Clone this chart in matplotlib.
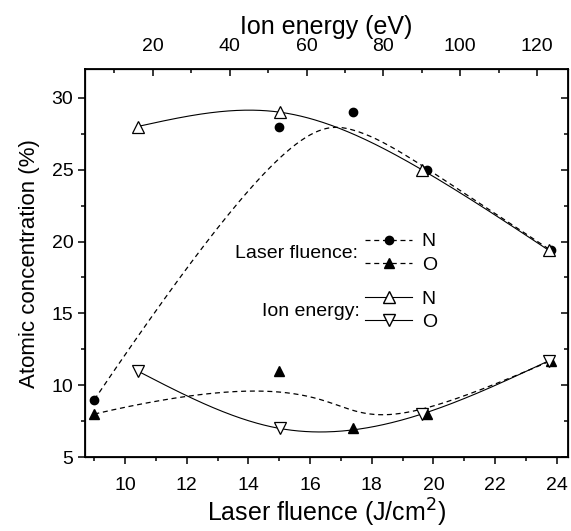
import numpy as np
import matplotlib
matplotlib.use("Agg")
import matplotlib.pyplot as plt
from matplotlib.lines import Line2D
from matplotlib.ticker import MultipleLocator

plt.rcParams['font.family'] = ['Liberation Sans', 'DejaVu Sans']

# laser fluence series (J/cm2)
fluence = [9.0, 15.0, 17.4, 19.8, 23.8]
fluence_N = [9.0, 28.0, 29.0, 25.0, 19.4]
fluence_O = [8.0, 11.0, 7.0, 8.0, 11.7]

# ion energy series (eV)
energy = [16.0, 53.0, 90.0, 123.0]
energy_N = [28.0, 29.0, 25.0, 19.4]
energy_O = [11.0, 7.0, 8.0, 11.7]


def bspline(px, py, n=300):
    # clamped cubic B-spline, points used as control points
    px = np.asarray(px, float)
    py = np.asarray(py, float)
    k = 3
    m = len(px)
    knots = np.concatenate([np.zeros(k), np.linspace(0, 1, m - k + 1), np.ones(k)])
    t = np.linspace(0, 1 - 1e-9, n)
    B = np.zeros((n, len(knots) - 1))
    for i in range(len(knots) - 1):
        B[:, i] = (t >= knots[i]) & (t < knots[i + 1])
    for d in range(1, k + 1):
        Bn = np.zeros((n, len(knots) - 1 - d))
        for i in range(len(knots) - 1 - d):
            a = knots[i + d] - knots[i]
            b = knots[i + d + 1] - knots[i + 1]
            left = (t - knots[i]) / a * B[:, i] if a > 0 else 0
            right = (knots[i + d + 1] - t) / b * B[:, i + 1] if b > 0 else 0
            Bn[:, i] = left + right
        B = Bn
    return B @ px, B @ py


def natural_spline(x, y, n=300):
    x = np.asarray(x, float)
    y = np.asarray(y, float)
    N = len(x)
    h = np.diff(x)
    A = np.zeros((N, N))
    r = np.zeros(N)
    A[0, 0] = A[-1, -1] = 1
    for i in range(1, N - 1):
        A[i, i - 1] = h[i - 1]
        A[i, i] = 2 * (h[i - 1] + h[i])
        A[i, i + 1] = h[i]
        r[i] = 6 * ((y[i + 1] - y[i]) / h[i] - (y[i] - y[i - 1]) / h[i - 1])
    M = np.linalg.solve(A, r)
    xs = np.linspace(x[0], x[-1], n)
    idx = np.clip(np.searchsorted(x, xs) - 1, 0, N - 2)
    x0, x1 = x[idx], x[idx + 1]
    hh = x1 - x0
    ys = (M[idx] * (x1 - xs) ** 3 / (6 * hh) + M[idx + 1] * (xs - x0) ** 3 / (6 * hh)
          + (y[idx] / hh - M[idx] * hh / 6) * (x1 - xs)
          + (y[idx + 1] / hh - M[idx + 1] * hh / 6) * (xs - x0))
    return xs, ys


fig = plt.figure(figsize=(5.71, 5.31), dpi=100)
ax = fig.add_axes([0.149, 0.139, 0.846, 0.731])

ax.set_xlim(8.7, 24.37)
ax.set_ylim(5, 32)

dash = (0, (4, 3))
bx, by = bspline(fluence, fluence_N)
ax.plot(bx, by, color='k', lw=0.9, ls=dash)
bx, by = bspline(fluence, fluence_O)
ax.plot(bx, by, color='k', lw=0.9, ls=dash)
ax.plot(fluence, fluence_N, 'o', color='k', ms=6, ls='none')
ax.plot(fluence, fluence_O, '^', color='k', ms=7, ls='none')

ax.set_xlabel('Laser fluence (J/cm$^2$)', fontsize=18, labelpad=2)
ax.set_ylabel('Atomic concentration (%)', fontsize=16, labelpad=8)
ax.xaxis.set_major_locator(MultipleLocator(2))
ax.xaxis.set_minor_locator(MultipleLocator(1))
ax.yaxis.set_major_locator(MultipleLocator(5))
ax.yaxis.set_minor_locator(MultipleLocator(2.5))
ax.tick_params(which='both', direction='out', labelsize=14, width=1.1)
ax.tick_params(which='major', length=5)
ax.tick_params(which='minor', length=3)
ax.tick_params(axis='x', pad=9)
for s in ax.spines.values():
    s.set_linewidth(1.3)

# top axis: ion energy
axt = ax.twiny()
axt.set_xlim(2.35, 128.1)
sx, sy = natural_spline(energy, energy_N)
axt.plot(sx, sy, color='k', lw=0.8)
sx, sy = natural_spline(energy, energy_O)
axt.plot(sx, sy, color='k', lw=0.8)
axt.plot(energy, energy_N, '^', mfc='white', mec='k', ms=8, mew=0.9, ls='none')
axt.plot(energy, energy_O, 'v', mfc='white', mec='k', ms=8, mew=0.9, ls='none')
axt.set_xlabel('Ion energy (eV)', fontsize=18, labelpad=3)
axt.xaxis.set_major_locator(MultipleLocator(20))
axt.xaxis.set_minor_locator(MultipleLocator(10))
axt.tick_params(which='both', direction='in', labelsize=14, width=1.1, pad=10)
axt.tick_params(which='major', length=5)
axt.tick_params(which='minor', length=3)

# right ticks
axr = ax.twinx()
axr.set_ylim(5, 32)
axr.yaxis.set_major_locator(MultipleLocator(5))
axr.yaxis.set_minor_locator(MultipleLocator(2.5))
axr.tick_params(which='both', direction='in', labelright=False, width=1.1)
axr.tick_params(which='major', length=5)
axr.tick_params(which='minor', length=3)

# legends
h_laser = [Line2D([], [], color='k', lw=0.9, ls=dash, marker='o', ms=6),
           Line2D([], [], color='k', lw=0.9, ls=dash, marker='^', ms=7)]
h_ion = [Line2D([], [], color='k', lw=0.8, marker='^', mfc='white', mec='k', ms=8),
         Line2D([], [], color='k', lw=0.8, marker='v', mfc='white', mec='k', ms=8)]
ax.legend(h_laser, ['N', 'O'], loc='center left', bbox_to_anchor=(0.58, 0.525),
          frameon=False, fontsize=14, handlelength=2.4, handletextpad=0.5,
          borderpad=0, borderaxespad=0, labelspacing=0.3)
axr.legend(h_ion, ['N', 'O'], loc='center left', bbox_to_anchor=(0.58, 0.378),
           frameon=False, fontsize=14, handlelength=2.4, handletextpad=0.5,
           borderpad=0, borderaxespad=0, labelspacing=0.3)
ax.text(0.565, 0.525, 'Laser fluence:', transform=ax.transAxes, ha='right', va='center', fontsize=14)
ax.text(0.569, 0.375, 'Ion energy:', transform=ax.transAxes, ha='right', va='center', fontsize=14)

fig.savefig('out.png', dpi=100)
